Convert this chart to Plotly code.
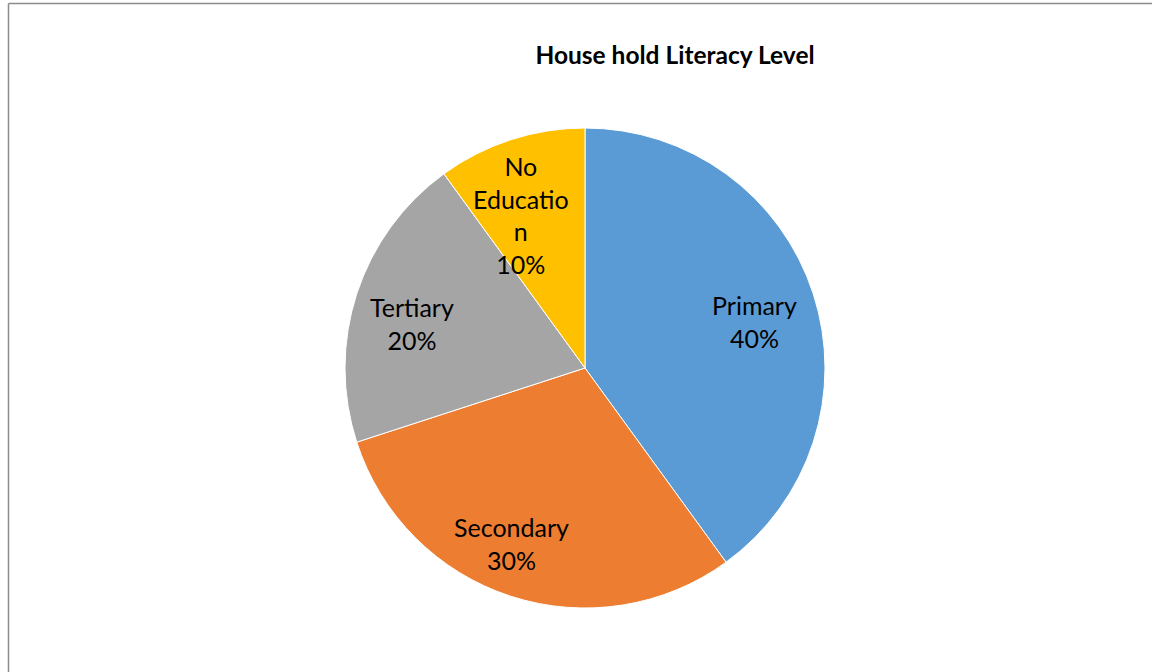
import math
import plotly.graph_objects as go

categories = ["Primary", "Secondary", "Tertiary", "No Education"]
values = [40, 30, 20, 10]
display_labels = ["Primary", "Secondary", "Tertiary", "No<br>Educatio<br>n"]
colors = ["#5B9BD5", "#ED7D31", "#A5A5A5", "#FFC000"]

# style: radial position of each label (fraction of radius) and pixel nudges
label_radius = [0.74, 0.80, 0.75, 0.69]
label_xshift = [1, -14, -2, -13]
label_yshift = [-8, 7, -11, -4]

W, H = 1152, 672
cx, cy, r = 585, 368, 240
FONT = "Lato, Open Sans, sans-serif"

fig = go.Figure(go.Pie(
    labels=categories,
    values=values,
    textinfo="none",
    sort=False,
    direction="clockwise",
    rotation=0,
    marker=dict(colors=colors, line=dict(color="white", width=1)),
    showlegend=False,
    hoverinfo="label+percent",
    domain=dict(x=[(cx - r) / W, (cx + r) / W], y=[1 - (cy + r) / H, 1 - (cy - r) / H]),
))

total = sum(values)
annotations = []
cum = 0
for lab, v, f, xs, ys in zip(display_labels, values, label_radius, label_xshift, label_yshift):
    mid = (cum + v / 2) / total * 2 * math.pi
    cum += v
    px = cx + f * r * math.sin(mid)
    py = cy - f * r * math.cos(mid)
    annotations.append(dict(
        x=px / W, y=1 - py / H, xref="paper", yref="paper",
        xshift=xs, yshift=ys,
        text=f"{lab}<br>{round(v / total * 100)}%", showarrow=False,
        xanchor="center", yanchor="middle", align="center",
        font=dict(family=FONT, size=25, color="black"),
    ))

fig.update_layout(
    width=W, height=H,
    margin=dict(l=0, r=0, t=0, b=0),
    paper_bgcolor="white",
    title=dict(text="<b>House hold Literacy Level</b>", x=675 / W, xanchor="center",
               y=1 - 55 / H, yanchor="middle",
               font=dict(family=FONT, size=24.5, color="black")),
    annotations=annotations,
    shapes=[
        dict(type="line", xref="paper", yref="paper",
             x0=8.5 / W, y0=-0.05, x1=8.5 / W, y1=1 - 3.5 / H,
             line=dict(color="#8C8C8C", width=1.5)),
        dict(type="line", xref="paper", yref="paper",
             x0=8.5 / W, y0=1 - 3.5 / H, x1=1.05, y1=1 - 3.5 / H,
             line=dict(color="#8C8C8C", width=1.5)),
    ],
)

fig.write_html("out.html", config={"displayModeBar": False},
               post_script="document.body.style.margin='0';document.body.style.overflow='hidden';")
